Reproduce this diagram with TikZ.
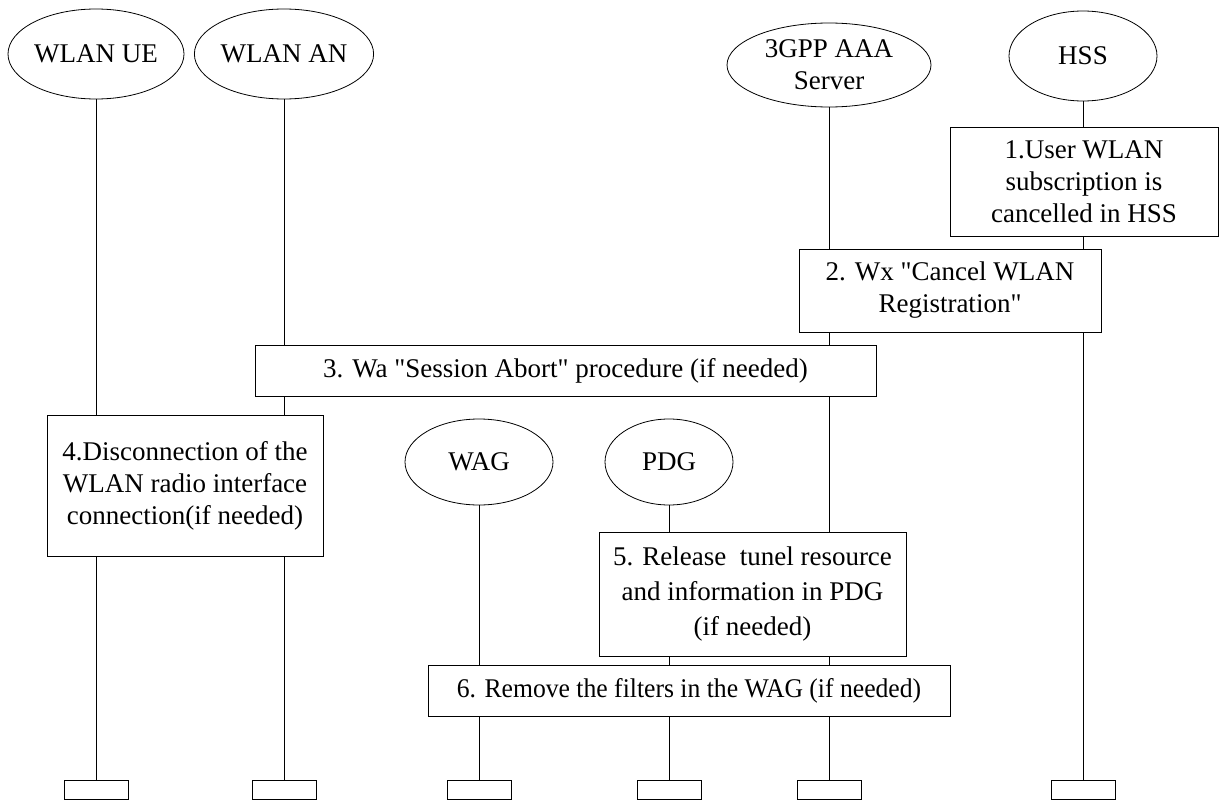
\documentclass[tikz,border=0pt]{standalone}
\usepackage{fontspec}
\setmainfont{Liberation Serif}[Ligatures=TeXOff]
\usetikzlibrary{shapes.geometric}
\begin{document}
\begin{tikzpicture}[x=1pt,y=-1pt,
  ent/.style={draw,ellipse,line width=0.8pt,inner sep=0pt,font=\fontsize{27}{32}\selectfont,align=center},
  stepbox/.style={draw,fill=white,line width=1pt,inner sep=0pt,align=center,font=\fontsize{27}{32}\selectfont},
  endbox/.style={draw,fill=white,line width=1pt,inner sep=0pt,minimum width=64pt,minimum height=19pt},
  life/.style={line width=1pt}]
\useasboundingbox (0,0) rectangle (1221,800);
% entities
\node[ent,minimum width=176pt,minimum height=90pt] (ue) at (96,54) {WLAN UE};
\node[ent,minimum width=168pt,minimum height=90pt] (an) at (284,54) {WLAN AN};
\node[ent,minimum width=204pt,minimum height=84pt] (aaa) at (829,65) {3GPP AAA\\Server};
\node[ent,minimum width=148pt,minimum height=90pt] (hss) at (1083,56) {HSS};
\node[ent,minimum width=148pt,minimum height=86pt] (wag) at (479,462) {WAG};
\node[ent,minimum width=128pt,minimum height=86pt] (pdg) at (669,462) {PDG};
% end boxes
\node[endbox] (ue-end) at (96,789.5) {};
\node[endbox] (an-end) at (284,789.5) {};
\node[endbox] (wag-end) at (479,789.5) {};
\node[endbox] (pdg-end) at (669,789.5) {};
\node[endbox] (aaa-end) at (829,789.5) {};
\node[endbox] (hss-end) at (1083,789.5) {};
% lifelines
\foreach \n in {ue,an,wag,pdg,aaa,hss}
  \draw[life] (\n.south) -- (\n-end.north);
% steps
\node[stepbox,minimum width=268pt,minimum height=109pt] (s1) at (1084,181.5)
  {1.User WLAN\\subscription is\\cancelled in HSS};
\node[stepbox,minimum width=302pt,minimum height=83pt] (s2) at (950,290.5)
  {2. Wx "Cancel WLAN\\Registration"};
\node[stepbox,minimum width=621pt,minimum height=51pt] (s3) at (565.5,370.5)
  {3. Wa "Session Abort" procedure (if needed)};
\node[stepbox,minimum width=276pt,minimum height=141pt] (s4) at (185,485.5)
  {4.Disconnection of the\\WLAN radio interface\\connection(if needed)};
\node[stepbox,minimum width=307pt,minimum height=124pt,font=\fontsize{27}{35}\selectfont] (s5) at (752.5,594)
  {5. Release~ tunel resource\\and information in PDG\\(if needed)};
\node[stepbox,minimum width=522pt,minimum height=51pt] (s6) at (689,690.5)
  {\scalebox{0.95}[1]{6. Remove the filters in the WAG (if needed)}};
\end{tikzpicture}
\end{document}
